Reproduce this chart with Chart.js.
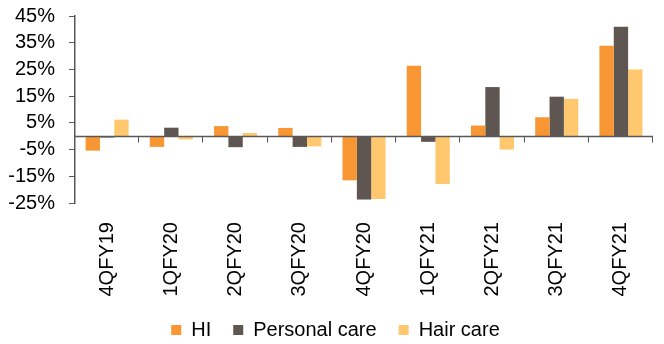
<!DOCTYPE html>
<html>
<head>
<meta charset="utf-8">
<script src="https://cdn.jsdelivr.net/npm/chart.js@4"></script>
<style>
  html, body { margin: 0; padding: 0; background: #fff; }
  #wrap { width: 664px; height: 344px; }
</style>
</head>
<body>
<div id="wrap"><canvas id="growthChart"></canvas></div>
<script>
// quarters + yoy growth (%)
const quarters = ['4QFY19', '1QFY20', '2QFY20', '3QFY20', '4QFY20', '1QFY21', '2QFY21', '3QFY21', '4QFY21'];
const hiGrowth = [-5.4, -4.0, 3.8, 3.1, -16.5, 26.4, 4.0, 7.1, 33.9];
const personalCare = [-0.5, 3.2, -4.1, -4.0, -23.7, -2.1, 18.4, 14.8, 41.0];
const hairCare = [6.2, -1.2, 1.2, -3.8, -23.5, -17.9, -5.0, 14.0, 25.0];
const seriesNames = ['HI', 'Personal care', 'Hair care'];
const seriesColors = ['#F79632', '#5F5652', '#FFC76E'];

const FONT = '"Liberation Sans", Arial, sans-serif';
const AXIS_COL = '#595959';

// zero line + small category ticks like the excel original
const zeroAxis = {
    id: 'zeroAxis',
    afterDatasetsDraw(chart) {
        const { ctx, chartArea, scales: { x, y } } = chart;
        const y0 = Math.round(y.getPixelForValue(0)) + 0.5;
        const step = x.getPixelForValue(1) - x.getPixelForValue(0);
        ctx.save();
        ctx.strokeStyle = AXIS_COL;
        ctx.lineWidth = 1.5;
        ctx.beginPath();
        ctx.moveTo(chartArea.left, y0);
        ctx.lineTo(chartArea.right, y0);
        ctx.stroke();
        ctx.lineWidth = 1;
        ctx.beginPath();
        for (let i = 1; i <= quarters.length; i++) {
            const xp = Math.round(x.getPixelForValue(i) - step / 2) - 0.5;
            ctx.moveTo(xp, y0);
            ctx.lineTo(xp, y0 + 6);
        }
        ctx.stroke();
        ctx.restore();
    }
};

// legend box is a bit too tall with the wide item spacing, trim it
const legendTrim = {
    id: 'legendTrim',
    beforeInit(chart) {
        const origFit = chart.legend.fit;
        chart.legend.fit = function () {
            origFit.call(this);
            this.height -= 6;
        };
    }
};

new Chart(document.getElementById('growthChart').getContext('2d'), {
    type: 'bar',
    data: {
        labels: quarters,
        datasets: [hiGrowth, personalCare, hairCare].map((vals, i) => ({
            label: seriesNames[i],
            data: vals,
            backgroundColor: seriesColors[i],
            borderWidth: 0,
            categoryPercentage: 0.67,
            barPercentage: 1.0
        }))
    },
    options: {
        responsive: true,
        maintainAspectRatio: false,
        animation: false,
        layout: { padding: { top: 16, left: 8, right: 1, bottom: 0 } },
        plugins: {
            tooltip: { enabled: false },
            legend: {
                position: 'bottom',
                labels: {
                    color: '#000',
                    font: { family: FONT, size: 20 },
                    boxWidth: 10, boxHeight: 10,
                    padding: 22
                }
            }
        },
        scales: {
            x: {
                grid: { display: false, drawTicks: false },
                border: { display: false },
                ticks: {
                    color: '#000', font: { family: FONT, size: 20 },
                    minRotation: 90, maxRotation: 90, padding: 19
                },
                afterFit: s => { s.height -= 17.5; }
            },
            y: {
                min: -25, max: 45,
                grid: { drawOnChartArea: false, color: AXIS_COL, tickLength: 6 },
                border: { color: AXIS_COL, width: 1.5 },
                ticks: {
                    stepSize: 10, autoSkip: false, color: '#000', padding: 14,
                    font: { family: FONT, size: 20 },
                    callback: v => v + '%'
                },
                afterFit: s => { s.width = 67; s.paddingTop = 0; s.paddingBottom = 0; }
            }
        }
    },
    plugins: [zeroAxis, legendTrim]
});
</script>
</body>
</html>
